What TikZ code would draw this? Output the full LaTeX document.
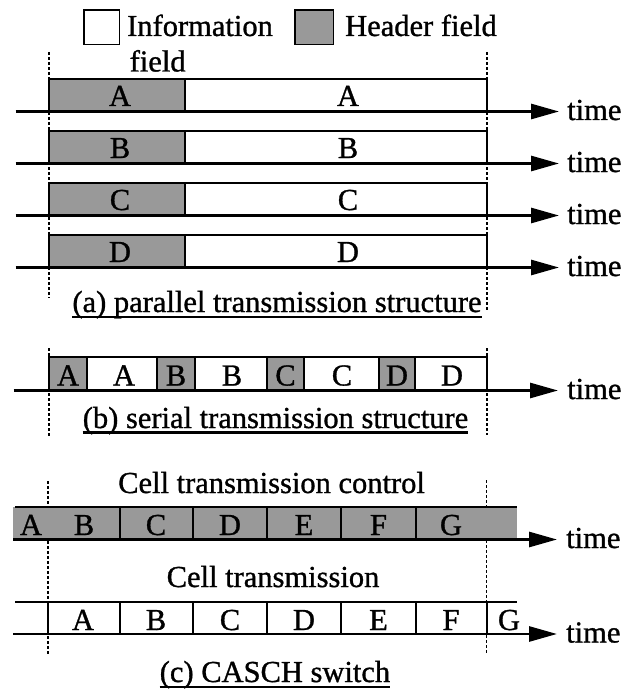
\documentclass[tikz,border=0pt]{standalone}
\usepackage{fontspec}
\setmainfont[FakeBold=1]{Liberation Serif}
\usetikzlibrary{arrows.meta}

\tikzset{
  boxline/.style={line width=2pt},
  hdrfill/.style={fill=black!40},
  timeaxis/.style={line width=2.8pt,-{Triangle[length=28pt,width=15pt]}},
  guide/.style={line width=1.5pt,dash pattern=on 3.2pt off 1.8pt},
  lbl/.style={inner sep=0pt,anchor=base,font=\fontsize{30.5}{34}\selectfont},
  timelbl/.style={inner sep=0pt,anchor=base west,font=\fontsize{30.5}{34}\selectfont},
  caption/.style={inner sep=0pt,anchor=base,font=\fontsize{30.5}{34}\selectfont},
  uline/.style={line width=2.2pt},
}

\begin{document}
\begin{tikzpicture}[x=1pt,y=-1pt]
\useasboundingbox[fill=white] (0,0) rectangle (622,690);

% ---------- legend ----------
\draw[boxline,line width=1.8pt] (84,10) rectangle (119.5,44.5);
\node[timelbl] (infotxt) at (127,36) {Information};
\node[timelbl] (infotxt2) at (129.5,71.5) {field};
\draw[boxline,line width=1.8pt,hdrfill] (295,10) rectangle (333.5,44.5);
\node[timelbl] (hdrtxt) at (345,36) {Header field};

% ---------- (a) parallel transmission structure ----------
\draw[guide] (49,52) -- (49,298);
\draw[guide] (487,52) -- (487,310);
\foreach \L/\ya in {A/111.5,B/163.5,C/215.5,D/267.5}{
  \fill[hdrfill] (49,\ya-32.5) rectangle (185,\ya);
  \draw[boxline] (49,\ya) -- (49,\ya-32.5) -- (487,\ya-32.5) -- (487,\ya);
  \draw[boxline] (185,\ya-32.5) -- (185,\ya);
  \node[lbl] (ph\L) at (120,\ya-5.5) {\L};
  \node[lbl] (pi\L) at (348,\ya-5.5) {\L};
  \coordinate (ps\L) at (15.5,\ya);
  \coordinate (pe\L) at (559,\ya);
  \draw[timeaxis] (ps\L) -- (pe\L);
  \node[timelbl] (pt\L) at (567,\ya+8.5) {time};
}
\node[caption] (capa) at (277,312) {(a) parallel transmission structure};
\draw[uline] ([yshift=-5pt]capa.base west) -- ([yshift=-5pt]capa.base east);

% ---------- (b) serial transmission structure ----------
\draw[guide] (49,348) -- (49,437);
\draw[guide] (487,348) -- (487,435);
\foreach \a/\b in {49/87,157/195,267/304,379/415}{
  \fill[hdrfill] (\a,356.5) rectangle (\b,390.5);
}
\draw[boxline] (49,390.5) -- (49,356.5) -- (487,356.5) -- (487,390.5);
\foreach \x in {87,157,195,267,304,379,415}{
  \draw[boxline] (\x,356.5) -- (\x,390.5);
}
\foreach \x/\L/\n in {68/A/1,124/A/2,176/B/3,232/B/4,285.5/C/5,342/C/6,397/D/7,452/D/8}{
  \node[lbl] (sc\n) at (\x,385.5) {\L};
}
\coordinate (ss) at (13.5,390.5);
\coordinate (se) at (558,390.5);
\draw[timeaxis] (ss) -- (se);
\node[timelbl] (st) at (567,399) {time};
\node[caption] (capb) at (275.5,428) {(b) serial transmission structure};
\draw[uline] ([yshift=-4.5pt]capb.base west) -- ([yshift=-4.5pt]capb.base east);

% ---------- (c) CASCH switch ----------
\draw[guide] (48,481) -- (48,655);
\draw[guide] (486.5,480) -- (486.5,653);

% cell transmission control
\node[timelbl] (ctrl) at (118,493) {Cell transmission control};
\fill[hdrfill] (13,506.5) rectangle (517,539.5);
\draw[boxline] (15,506.5) -- (517,506.5);
\foreach \x in {119.5,193,267,341,416}{
  \draw[boxline] (\x,506.5) -- (\x,539.5);
}
\foreach \x/\L in {31/A,84/B,156/C,230/D,304/E,378.5/F,451/G}{
  \node[lbl] (cc\L) at (\x,535) {\L};
}
\coordinate (cs) at (13,539.5);
\coordinate (ce) at (557,539.5);
\draw[timeaxis] (cs) -- (ce);
\node[timelbl] (ct) at (566,548) {time};

% cell transmission
\node[timelbl] (trans) at (166.5,587) {Cell transmission};
\draw[boxline] (15,601.5) -- (517,601.5);
\foreach \x in {48,119.5,193,267,341,416,486.5}{
  \draw[boxline] (\x,601.5) -- (\x,634);
}
\foreach \x/\L in {83/A,156/B,230/C,304/D,378.5/E,451/F,509/G}{
  \node[lbl] (tc\L) at (\x,630) {\L};
}
\coordinate (ts) at (13,634);
\coordinate (te) at (557,634);
\draw[timeaxis] (ts) -- (te);
\node[timelbl] (tt) at (566,642.5) {time};

\node[caption] (capc) at (275,682) {(c) CASCH switch};
\draw[uline] ([yshift=-5pt]capc.base west) -- ([yshift=-5pt]capc.base east);
\end{tikzpicture}
\end{document}
